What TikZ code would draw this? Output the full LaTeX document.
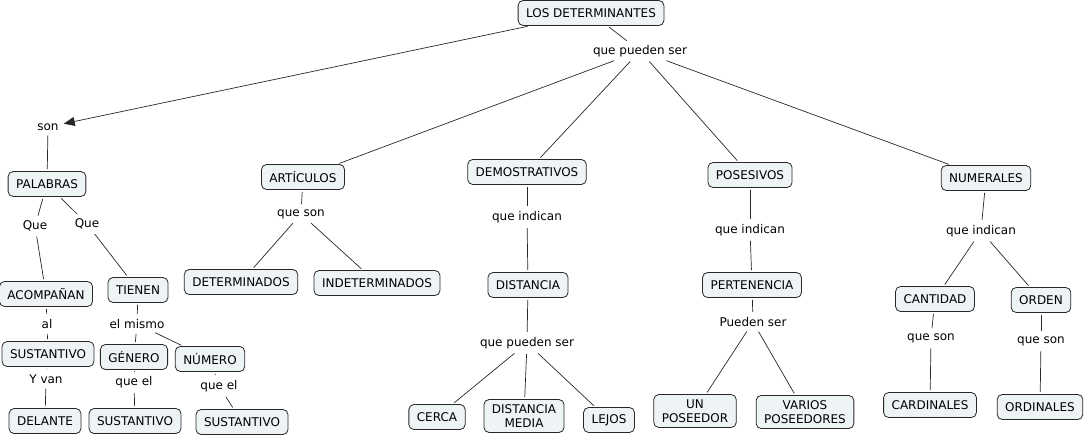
\documentclass[tikz,border=0pt]{standalone}
\usepackage{fontspec}
\setmainfont{DejaVu Sans}
\usetikzlibrary{arrows.meta}
\definecolor{cmapfill}{RGB}{238,243,246}
\definecolor{cmapline}{RGB}{40,40,40}

\begin{document}
\begin{tikzpicture}[x=1pt, y=-1pt,
  concept/.style={rectangle, rounded corners=5pt, draw=cmapline, fill=cmapfill, line width=0.8pt, minimum height=25pt, inner xsep=8pt, align=center, font=\fontsize{12}{14}\selectfont},
  concept2/.style={concept, inner ysep=5pt},
  phrase/.style={inner sep=3pt, font=\fontsize{12}{14}\selectfont},
  link/.style={draw=cmapline, line width=0.7pt, shorten <=2pt, shorten >=2pt},
  arrow/.style={link, -{Triangle[length=11pt, width=9pt]}}
]
\useasboundingbox (0,0) rectangle (1086,437);

\node[concept] (los) at (591,13) {LOS DETERMINANTES};
\node[phrase] (qps) at (640,51) {que pueden ser};
\node[phrase] (son) at (48,127) {son};

\node[concept] (pal) at (47,184) {PALABRAS};
\node[phrase] (que1) at (35,226) {Que};
\node[phrase] (que2) at (87,224) {Que};
\node[concept] (acom) at (46,294) {ACOMPAÑAN};
\node[concept] (tien) at (138,290) {TIENEN};
\node[phrase] (al) at (47,324) {al};
\node[phrase] (mismo) at (137,324) {el mismo};
\node[concept] (sus1) at (48,354) {SUSTANTIVO};
\node[concept] (gen) at (134,357) {GÉNERO};
\node[concept] (num) at (210,359) {NÚMERO};
\node[phrase] (yvan) at (46,379) {Y van};
\node[phrase] (qel1) at (134,382) {que el};
\node[phrase] (qel2) at (219,386) {que el};
\node[concept] (del) at (45,421) {DELANTE};
\node[concept] (sus2) at (135,421) {SUSTANTIVO};
\node[concept] (sus3) at (242,422) {SUSTANTIVO};

\node[concept] (art) at (303,177) {ARTÍCULOS};
\node[phrase] (qson1) at (301,214) {que son};
\node[concept] (detm) at (241,282) {DETERMINADOS};
\node[concept] (indet) at (377,283) {INDETERMINADOS};

\node[concept] (dem) at (527,172) {DEMOSTRATIVOS};
\node[phrase] (qind1) at (527,217) {que indican};
\node[concept] (dist) at (528,285) {DISTANCIA};
\node[phrase] (qps2) at (527,343) {que pueden ser};
\node[concept] (cerca) at (437,417) {CERCA};
\node[concept2] (dmed) at (524,416) {DISTANCIA\\MEDIA};
\node[concept] (lejos) at (609,420) {LEJOS};

\node[concept] (pos) at (750,175) {POSESIVOS};
\node[phrase] (qind2) at (750,230) {que indican};
\node[concept] (pert) at (752,285) {PERTENENCIA};
\node[phrase] (pser) at (753,322) {Pueden ser};
\node[concept2] (unp) at (695,411) {UN\\POSEEDOR};
\node[concept2] (varp) at (805,412) {VARIOS\\POSEEDORES};

\node[concept] (nume) at (986,178) {NUMERALES};
\node[phrase] (qind3) at (981,231) {que indican};
\node[concept] (cant) at (935,299) {CANTIDAD};
\node[concept] (ord) at (1041,300) {ORDEN};
\node[phrase] (qson2) at (931,338) {que son};
\node[phrase] (qson3) at (1041,341) {que son};
\node[concept] (card) at (930,405) {CARDINALES};
\node[concept] (ordi) at (1040,407) {ORDINALES};

\draw[link] (los) -- (qps);
\draw[link] (qps) -- (art);
\draw[link] (qps) -- (dem);
\draw[link] (qps) -- (pos);
\draw[link] (qps) -- (nume);

\draw[arrow] (los) -- (son);
\draw[link] (son) -- (pal);
\draw[link] (pal) -- (que1);
\draw[link] (que1) -- (acom);
\draw[link] (pal) -- (que2);
\draw[link] (que2) -- (tien);
\draw[link] (acom) -- (al);
\draw[link] (al) -- (sus1);
\draw[link] (sus1) -- (yvan);
\draw[link] (yvan) -- (del);
\draw[link] (tien) -- (mismo);
\draw[link] (mismo) -- (gen);
\draw[link] (mismo) -- (num);
\draw[link] (gen) -- (qel1);
\draw[link] (qel1) -- (sus2);
\draw[link] (num) -- (qel2);
\draw[link] (qel2) -- (sus3);

\draw[link] (art) -- (qson1);
\draw[link] (qson1) -- (detm);
\draw[link] (qson1) -- (indet);

\draw[link] (dem) -- (qind1);
\draw[link] (qind1) -- (dist);
\draw[link] (dist) -- (qps2);
\draw[link] (qps2) -- (cerca);
\draw[link] (qps2) -- (dmed);
\draw[link] (qps2) -- (lejos);

\draw[link] (pos) -- (qind2);
\draw[link] (qind2) -- (pert);
\draw[link] (pert) -- (pser);
\draw[link] (pser) -- (unp);
\draw[link] (pser) -- (varp);

\draw[link] (nume) -- (qind3);
\draw[link] (qind3) -- (cant);
\draw[link] (qind3) -- (ord);
\draw[link] (cant) -- (qson2);
\draw[link] (qson2) -- (card);
\draw[link] (ord) -- (qson3);
\draw[link] (qson3) -- (ordi);
\end{tikzpicture}
\end{document}
